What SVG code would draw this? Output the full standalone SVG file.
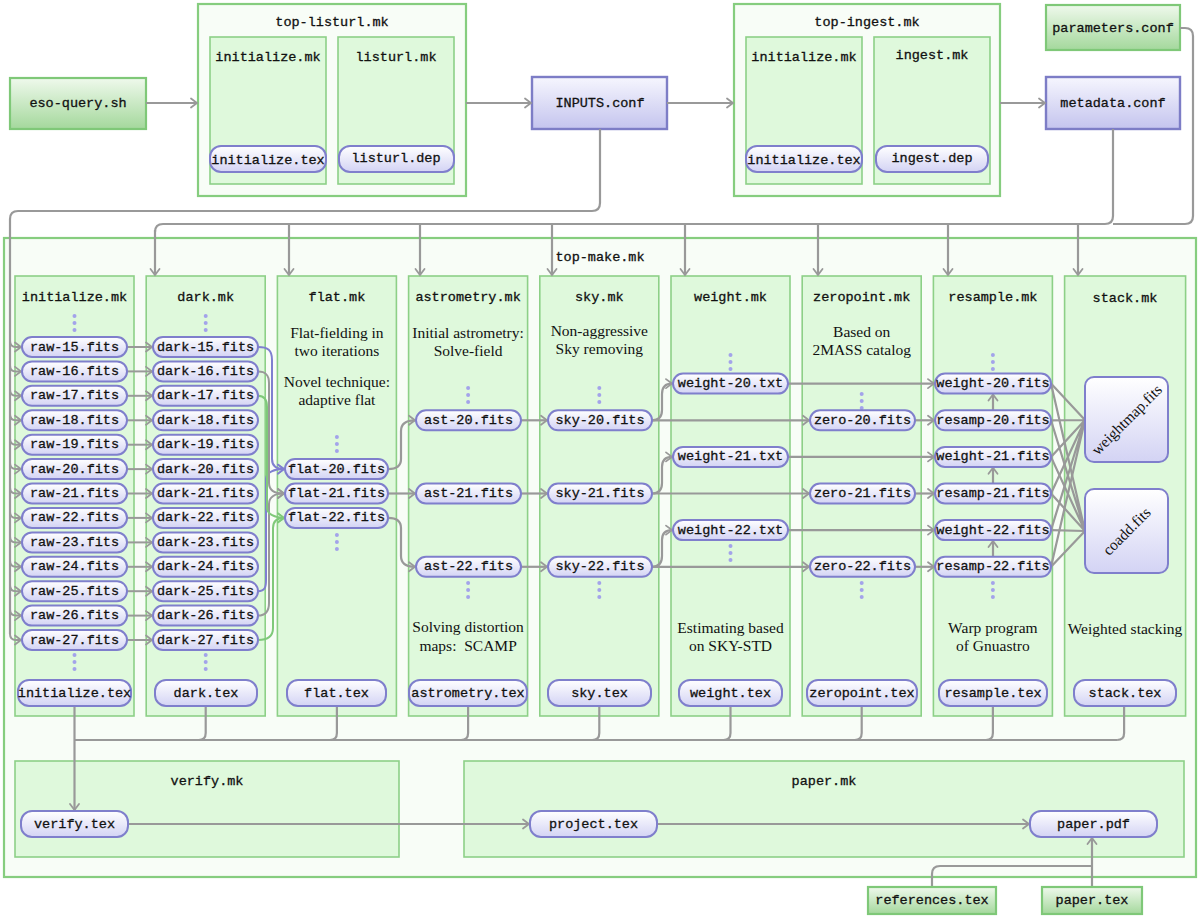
<svg xmlns="http://www.w3.org/2000/svg" width="1200" height="918" viewBox="0 0 1200 918">
<defs>
<linearGradient id="gp" x1="0" y1="0" x2="0" y2="1"><stop offset="0" stop-color="#ffffff"/><stop offset="1" stop-color="#d3d3f4"/></linearGradient>
<linearGradient id="gb" x1="0" y1="0" x2="0" y2="1"><stop offset="0" stop-color="#f6f6fe"/><stop offset="1" stop-color="#c4c4ee"/></linearGradient>
<linearGradient id="gg" x1="0" y1="0" x2="0" y2="1"><stop offset="0" stop-color="#eff9ec"/><stop offset="1" stop-color="#a4d89c"/></linearGradient>
<marker id="ag" markerUnits="userSpaceOnUse" markerWidth="10" markerHeight="12" viewBox="-8 -6 10 12" refX="0" refY="0" orient="auto"><path d="M-6,-4.5 Q-2,-1.5 0,0 Q-2,1.5 -6,4.5" fill="none" stroke="#999" stroke-width="1.8" stroke-linecap="round"/></marker>
<marker id="ab" markerUnits="userSpaceOnUse" markerWidth="10" markerHeight="12" viewBox="-8 -6 10 12" refX="0" refY="0" orient="auto"><path d="M-6,-4.5 Q-2,-1.5 0,0 Q-2,1.5 -6,4.5" fill="none" stroke="#7f7fd0" stroke-width="1.8" stroke-linecap="round"/></marker>
<marker id="an" markerUnits="userSpaceOnUse" markerWidth="10" markerHeight="12" viewBox="-8 -6 10 12" refX="0" refY="0" orient="auto"><path d="M-6,-4.5 Q-2,-1.5 0,0 Q-2,1.5 -6,4.5" fill="none" stroke="#7fc97a" stroke-width="1.8" stroke-linecap="round"/></marker>
</defs>
<style>
.m{font-family:"Liberation Mono","DejaVu Sans Mono",monospace;font-size:13.5px;fill:#111;stroke:#111;stroke-width:0.3;text-anchor:middle;dominant-baseline:central}
.s{font-family:"Liberation Serif","DejaVu Serif",serif;font-size:15.5px;fill:#111;text-anchor:middle;dominant-baseline:central}
.outer{fill:#f8fdf7;stroke:#86cd7f;stroke-width:2.2}
.col{fill:#dff9dc;stroke:#8dd087;stroke-width:1.6}
.pill{fill:url(#gp);stroke:#7f7fcc;stroke-width:2}
.bbox{fill:url(#gb);stroke:#7d7dc6;stroke-width:2.4}
.gbox{fill:url(#gg);stroke:#7fc878;stroke-width:2.2}
.c{fill:none;stroke:#999;stroke-width:2.2}
.ca{fill:none;stroke:#999;stroke-width:2.2;marker-end:url(#ag)}
.cb{fill:none;stroke:#7f7fd0;stroke-width:2;marker-end:url(#ab)}
.cn{fill:none;stroke:#7fc97a;stroke-width:2;marker-end:url(#an)}
.cg{fill:none;stroke:#999;stroke-width:2;marker-end:url(#ag)}
.d{fill:#a3a3ea}
</style>
<rect width="1200" height="918" fill="#fff"/>

<g id="top-make">
<rect class="outer" x="4" y="238" width="1192" height="639"/>
<text class="m" x="600" y="257">top-make.mk</text>
</g>
<g id="top-listurl">
<rect class="outer" x="198" y="4" width="268" height="192"/>
<text class="m" x="332" y="22">top-listurl.mk</text>
<g id="tl-initialize-mk"><rect class="col" x="210" y="37" width="116" height="147"/><text class="m" x="268" y="57">initialize.mk</text></g>
<g id="tl-listurl-mk"><rect class="col" x="338" y="37" width="116" height="147"/><text class="m" x="396" y="57">listurl.mk</text></g>
<g id="tl-initialize-tex"><rect class="pill" x="210" y="146" width="116" height="26" rx="11"/><text class="m" x="268" y="160">initialize.tex</text></g>
<g id="tl-listurl-dep"><rect class="pill" x="339" y="146" width="115" height="26" rx="11"/><text class="m" x="396" y="158">listurl.dep</text></g>
</g>
<g id="top-ingest">
<rect class="outer" x="734" y="4" width="266" height="192"/>
<text class="m" x="867" y="22">top-ingest.mk</text>
<g id="ti-initialize-mk"><rect class="col" x="746" y="37" width="116" height="147"/><text class="m" x="804" y="57">initialize.mk</text></g>
<g id="ti-ingest-mk"><rect class="col" x="874" y="37" width="116" height="147"/><text class="m" x="932" y="55">ingest.mk</text></g>
<g id="ti-initialize-tex"><rect class="pill" x="746" y="146" width="116" height="26" rx="11"/><text class="m" x="804" y="160">initialize.tex</text></g>
<g id="ti-ingest-dep"><rect class="pill" x="876" y="146" width="112" height="26" rx="11"/><text class="m" x="932" y="158">ingest.dep</text></g>
</g>

<g id="eso-query"><rect class="gbox" x="10" y="78" width="136" height="51"/><text class="m" x="78" y="103">eso-query.sh</text></g>
<g id="inputs-conf"><rect class="bbox" x="532" y="77" width="135" height="52"/><text class="m" x="600" y="103">INPUTS.conf</text></g>
<g id="parameters-conf"><rect class="gbox" x="1046" y="5" width="134" height="45"/><text class="m" x="1113" y="28">parameters.conf</text></g>
<g id="metadata-conf"><rect class="bbox" x="1046" y="77" width="134" height="52"/><text class="m" x="1113" y="103">metadata.conf</text></g>

<g id="col-initialize"><rect class="col" x="15" y="276" width="119" height="440"/><text class="m" x="74.5" y="297">initialize.mk</text>
<circle class="d" cx="74.5" cy="316" r="2"/><circle class="d" cx="74.5" cy="323" r="2"/><circle class="d" cx="74.5" cy="330" r="2"/>
<circle class="d" cx="74.5" cy="655" r="2"/><circle class="d" cx="74.5" cy="662" r="2"/><circle class="d" cx="74.5" cy="669" r="2"/></g>
<g id="col-dark"><rect class="col" x="146.2" y="276" width="119" height="440"/><text class="m" x="205.7" y="297">dark.mk</text>
<circle class="d" cx="205.7" cy="316" r="2"/><circle class="d" cx="205.7" cy="323" r="2"/><circle class="d" cx="205.7" cy="330" r="2"/>
<circle class="d" cx="205.7" cy="655" r="2"/><circle class="d" cx="205.7" cy="662" r="2"/><circle class="d" cx="205.7" cy="669" r="2"/></g>
<g id="col-flat"><rect class="col" x="277.4" y="276" width="119" height="440"/><text class="m" x="336.9" y="297">flat.mk</text>
<text class="s" x="336.9" y="332">Flat-fielding in</text><text class="s" x="336.9" y="350">two iterations</text>
<text class="s" x="336.9" y="381">Novel technique:</text><text class="s" x="336.9" y="399">adaptive flat</text>
<circle class="d" cx="336.9" cy="437" r="2"/><circle class="d" cx="336.9" cy="444" r="2"/><circle class="d" cx="336.9" cy="451" r="2"/>
<circle class="d" cx="336.9" cy="535" r="2"/><circle class="d" cx="336.9" cy="542" r="2"/><circle class="d" cx="336.9" cy="549" r="2"/></g>
<g id="col-astrometry"><rect class="col" x="408.6" y="276" width="119" height="440"/><text class="m" x="468.1" y="297">astrometry.mk</text>
<text class="s" x="468.1" y="332">Initial astrometry:</text><text class="s" x="468.1" y="350">Solve-field</text>
<circle class="d" cx="468.1" cy="388" r="2"/><circle class="d" cx="468.1" cy="395" r="2"/><circle class="d" cx="468.1" cy="402" r="2"/>
<circle class="d" cx="468.1" cy="583" r="2"/><circle class="d" cx="468.1" cy="590" r="2"/><circle class="d" cx="468.1" cy="597" r="2"/>
<text class="s" x="468.1" y="626">Solving distortion</text><text class="s" x="468.1" y="645">maps:&#160; SCAMP</text></g>
<g id="col-sky"><rect class="col" x="539.8" y="276" width="119" height="440"/><text class="m" x="599.3" y="297">sky.mk</text>
<text class="s" x="599.3" y="330">Non-aggressive</text><text class="s" x="599.3" y="348">Sky removing</text>
<circle class="d" cx="599.3" cy="388" r="2"/><circle class="d" cx="599.3" cy="395" r="2"/><circle class="d" cx="599.3" cy="402" r="2"/>
<circle class="d" cx="599.3" cy="583" r="2"/><circle class="d" cx="599.3" cy="590" r="2"/><circle class="d" cx="599.3" cy="597" r="2"/></g>
<g id="col-weight"><rect class="col" x="671" y="276" width="119" height="440"/><text class="m" x="730.5" y="297">weight.mk</text>
<circle class="d" cx="730.5" cy="355" r="2"/><circle class="d" cx="730.5" cy="362" r="2"/><circle class="d" cx="730.5" cy="369" r="2"/>
<circle class="d" cx="730.5" cy="546" r="2"/><circle class="d" cx="730.5" cy="553" r="2"/><circle class="d" cx="730.5" cy="560" r="2"/>
<text class="s" x="730.5" y="627">Estimating based</text><text class="s" x="730.5" y="645">on SKY-STD</text></g>
<g id="col-zeropoint"><rect class="col" x="802.2" y="276" width="119" height="440"/><text class="m" x="861.7" y="297">zeropoint.mk</text>
<text class="s" x="861.7" y="331">Based on</text><text class="s" x="861.7" y="349">2MASS catalog</text>
<circle class="d" cx="861.7" cy="394" r="2"/><circle class="d" cx="861.7" cy="401" r="2"/><circle class="d" cx="861.7" cy="408" r="2"/>
<circle class="d" cx="861.7" cy="583" r="2"/><circle class="d" cx="861.7" cy="590" r="2"/><circle class="d" cx="861.7" cy="597" r="2"/></g>
<g id="col-resample"><rect class="col" x="933.4" y="276" width="119" height="440"/><text class="m" x="992.9" y="297">resample.mk</text>
<circle class="d" cx="992.9" cy="355" r="2"/><circle class="d" cx="992.9" cy="362" r="2"/><circle class="d" cx="992.9" cy="369" r="2"/>
<circle class="d" cx="992.9" cy="583" r="2"/><circle class="d" cx="992.9" cy="590" r="2"/><circle class="d" cx="992.9" cy="597" r="2"/>
<text class="s" x="992.9" y="627">Warp program</text><text class="s" x="992.9" y="645">of Gnuastro</text></g>
<g id="col-stack"><rect class="col" x="1064.6" y="276" width="121" height="440"/><text class="m" x="1125" y="298">stack.mk</text>
<text class="s" x="1125" y="628">Weighted stacking</text></g>

<g id="verify-mk"><rect class="col" x="15" y="761" width="384" height="96"/><text class="m" x="207" y="781">verify.mk</text></g>
<g id="paper-mk"><rect class="col" x="464" y="761" width="720" height="96"/><text class="m" x="824" y="781">paper.mk</text></g>

<g id="connectors">
<path class="ca" d="M146,103 L197,103"/>
<path class="ca" d="M466,103 L531,103"/>
<path class="ca" d="M667,103 L733,103"/>
<path class="ca" d="M1000,103 L1045,103"/>
<path class="c" d="M600,129 L600,203 Q600,211 592,211 L18,211 Q10,211 10,219 L10,634"/>
<path class="cg" d="M10,341 Q10,347 16,347 L21,347"/>
<path class="cg" d="M10,365.4 Q10,371.4 16,371.4 L21,371.4"/>
<path class="cg" d="M10,389.8 Q10,395.8 16,395.8 L21,395.8"/>
<path class="cg" d="M10,414.3 Q10,420.3 16,420.3 L21,420.3"/>
<path class="cg" d="M10,438.7 Q10,444.7 16,444.7 L21,444.7"/>
<path class="cg" d="M10,463.1 Q10,469.1 16,469.1 L21,469.1"/>
<path class="cg" d="M10,487.5 Q10,493.5 16,493.5 L21,493.5"/>
<path class="cg" d="M10,511.9 Q10,517.9 16,517.9 L21,517.9"/>
<path class="cg" d="M10,536.4 Q10,542.4 16,542.4 L21,542.4"/>
<path class="cg" d="M10,560.8 Q10,566.8 16,566.8 L21,566.8"/>
<path class="cg" d="M10,585.2 Q10,591.2 16,591.2 L21,591.2"/>
<path class="cg" d="M10,609.6 Q10,615.6 16,615.6 L21,615.6"/>
<path class="cg" d="M10,634 Q10,640 16,640 L21,640"/>
<path class="c" d="M1113,129 L1113,216 Q1113,224 1105,224 L163,224 Q155,224 155,232"/>
<path class="c" d="M1180,28 L1185,28 Q1193,28 1193,36 L1193,216 Q1193,224 1185,224 L1113,224"/>
<path class="ca" d="M155,230 L155,275"/>
<path class="ca" d="M289,224 L289,275"/>
<path class="ca" d="M420,224 L420,275"/>
<path class="ca" d="M552,224 L552,275"/>
<path class="ca" d="M685,224 L685,275"/>
<path class="ca" d="M818,224 L818,275"/>
<path class="ca" d="M948,224 L948,275"/>
<path class="ca" d="M1078,224 L1078,275"/>
<path class="cg" d="M127,347 L152,347"/>
<path class="cg" d="M127,371.4 L152,371.4"/>
<path class="cg" d="M127,395.8 L152,395.8"/>
<path class="cg" d="M127,420.3 L152,420.3"/>
<path class="cg" d="M127,444.7 L152,444.7"/>
<path class="cg" d="M127,469.1 L152,469.1"/>
<path class="cg" d="M127,493.5 L152,493.5"/>
<path class="cg" d="M127,517.9 L152,517.9"/>
<path class="cg" d="M127,542.4 L152,542.4"/>
<path class="cg" d="M127,566.8 L152,566.8"/>
<path class="cg" d="M127,591.2 L152,591.2"/>
<path class="cg" d="M127,615.6 L152,615.6"/>
<path class="cg" d="M127,640 L152,640"/>
<path class="cb" d="M258,347 C268,347 272,350 272,360 L272,459 C272,466 276,469.1 284,469.1"/>
<path class="cb" d="M258,591.2 C265,591.2 266,587 266,580 L266,479 C266,472 275,469.1 284,469.1"/>
<path class="cg" d="M258,371.4 C266,371.4 269,375 269,383 L269,483 C269,490 274,493.5 284,493.5"/>
<path class="cg" d="M258,615.6 C266,615.6 269,611 269,603 L269,504 C269,497 275,493.5 284,493.5"/>
<path class="cn" d="M258,395.8 C264,395.8 267,399 267,407 L267,508 C267,514 275,517.9 284,517.9"/>
<path class="cn" d="M258,640 C268,640 273,636 273,628 L273,528 C273,521 277,517.9 284,517.9"/>
<path class="ca" d="M388,469.1 Q401,469.1 401,459 L401,431 Q401,420.3 415,420.3"/>
<path class="ca" d="M388,493.5 L415,493.5"/>
<path class="ca" d="M388,517.9 Q401,517.9 401,528 L401,556 Q401,566.8 415,566.8"/>
<path class="ca" d="M521,420.3 L547,420.3"/>
<path class="ca" d="M521,493.5 L547,493.5"/>
<path class="ca" d="M521,566.8 L547,566.8"/>
<path class="ca" d="M652,420.3 Q662,420.3 662,410 L662,394 Q662,383.6 672,383.6"/>
<path class="ca" d="M652,493.5 Q662,493.5 662,483 L662,467 Q662,456.9 672,456.9"/>
<path class="ca" d="M652,566.8 Q662,566.8 662,556 L662,540 Q662,530.1 672,530.1"/>
<path class="ca" d="M652,420.3 L809,420.3"/>
<path class="ca" d="M652,493.5 L809,493.5"/>
<path class="ca" d="M652,566.8 L809,566.8"/>
<path class="ca" d="M788,383.6 L934,383.6"/>
<path class="ca" d="M788,456.9 L934,456.9"/>
<path class="ca" d="M788,530.1 L934,530.1"/>
<path class="ca" d="M915,420.3 L934,420.3"/>
<path class="ca" d="M915,493.5 L934,493.5"/>
<path class="ca" d="M915,566.8 L934,566.8"/>
<path class="ca" d="M993,410 L993,394.5"/>
<path class="ca" d="M993,483 L993,467.8"/>
<path class="ca" d="M993,556.5 L993,541"/>
<g class="c" stroke-width="2">
<path d="M1051,383.6 L1085,420 M1051,420.3 L1085,420 M1051,456.9 L1085,420 M1051,493.5 L1085,420 M1051,530.1 L1085,420 M1051,566.8 L1085,420"/>
<path d="M1051,383.6 L1085,531 M1051,420.3 L1085,531 M1051,456.9 L1085,531 M1051,493.5 L1085,531 M1051,530.1 L1085,531 M1051,566.8 L1085,531"/>
</g>
<path class="c" d="M74.5,740 L1117,740"/>
<path class="c" d="M205.7,706 L205.7,733 Q205.7,740 198.7,740"/>
<path class="c" d="M336.9,706 L336.9,733 Q336.9,740 329.9,740"/>
<path class="c" d="M468.1,706 L468.1,733 Q468.1,740 461.1,740"/>
<path class="c" d="M599.3,706 L599.3,733 Q599.3,740 592.3,740"/>
<path class="c" d="M730.5,706 L730.5,733 Q730.5,740 723.5,740"/>
<path class="c" d="M861.7,706 L861.7,733 Q861.7,740 854.7,740"/>
<path class="c" d="M992.9,706 L992.9,733 Q992.9,740 985.9,740"/>
<path class="c" d="M1124.1,706 L1124.1,733 Q1124.1,740 1117.1,740"/>
<path class="ca" d="M74.5,706 L74.5,810"/>
<path class="ca" d="M128,824 L529,824"/>
<path class="ca" d="M657,824 L1029,824"/>
<path class="c" d="M932,886 L932,874 Q932,866 940,866 L1092,866"/>
<path class="ca" d="M1092,886 L1092,838"/>
</g>

<g id="raw-15"><rect class="pill" x="22" y="337" width="105" height="20" rx="10"/><text class="m" x="74.5" y="347">raw-15.fits</text></g>
<g id="raw-16"><rect class="pill" x="22" y="361.4" width="105" height="20" rx="10"/><text class="m" x="74.5" y="371.4">raw-16.fits</text></g>
<g id="raw-17"><rect class="pill" x="22" y="385.8" width="105" height="20" rx="10"/><text class="m" x="74.5" y="395.8">raw-17.fits</text></g>
<g id="raw-18"><rect class="pill" x="22" y="410.3" width="105" height="20" rx="10"/><text class="m" x="74.5" y="420.3">raw-18.fits</text></g>
<g id="raw-19"><rect class="pill" x="22" y="434.7" width="105" height="20" rx="10"/><text class="m" x="74.5" y="444.7">raw-19.fits</text></g>
<g id="raw-20"><rect class="pill" x="22" y="459.1" width="105" height="20" rx="10"/><text class="m" x="74.5" y="469.1">raw-20.fits</text></g>
<g id="raw-21"><rect class="pill" x="22" y="483.5" width="105" height="20" rx="10"/><text class="m" x="74.5" y="493.5">raw-21.fits</text></g>
<g id="raw-22"><rect class="pill" x="22" y="507.9" width="105" height="20" rx="10"/><text class="m" x="74.5" y="517.9">raw-22.fits</text></g>
<g id="raw-23"><rect class="pill" x="22" y="532.4" width="105" height="20" rx="10"/><text class="m" x="74.5" y="542.4">raw-23.fits</text></g>
<g id="raw-24"><rect class="pill" x="22" y="556.8" width="105" height="20" rx="10"/><text class="m" x="74.5" y="566.8">raw-24.fits</text></g>
<g id="raw-25"><rect class="pill" x="22" y="581.2" width="105" height="20" rx="10"/><text class="m" x="74.5" y="591.2">raw-25.fits</text></g>
<g id="raw-26"><rect class="pill" x="22" y="605.6" width="105" height="20" rx="10"/><text class="m" x="74.5" y="615.6">raw-26.fits</text></g>
<g id="raw-27"><rect class="pill" x="22" y="630" width="105" height="20" rx="10"/><text class="m" x="74.5" y="640">raw-27.fits</text></g>

<g id="dark-15"><rect class="pill" x="153" y="337" width="105" height="20" rx="10"/><text class="m" x="205.5" y="347">dark-15.fits</text></g>
<g id="dark-16"><rect class="pill" x="153" y="361.4" width="105" height="20" rx="10"/><text class="m" x="205.5" y="371.4">dark-16.fits</text></g>
<g id="dark-17"><rect class="pill" x="153" y="385.8" width="105" height="20" rx="10"/><text class="m" x="205.5" y="395.8">dark-17.fits</text></g>
<g id="dark-18"><rect class="pill" x="153" y="410.3" width="105" height="20" rx="10"/><text class="m" x="205.5" y="420.3">dark-18.fits</text></g>
<g id="dark-19"><rect class="pill" x="153" y="434.7" width="105" height="20" rx="10"/><text class="m" x="205.5" y="444.7">dark-19.fits</text></g>
<g id="dark-20"><rect class="pill" x="153" y="459.1" width="105" height="20" rx="10"/><text class="m" x="205.5" y="469.1">dark-20.fits</text></g>
<g id="dark-21"><rect class="pill" x="153" y="483.5" width="105" height="20" rx="10"/><text class="m" x="205.5" y="493.5">dark-21.fits</text></g>
<g id="dark-22"><rect class="pill" x="153" y="507.9" width="105" height="20" rx="10"/><text class="m" x="205.5" y="517.9">dark-22.fits</text></g>
<g id="dark-23"><rect class="pill" x="153" y="532.4" width="105" height="20" rx="10"/><text class="m" x="205.5" y="542.4">dark-23.fits</text></g>
<g id="dark-24"><rect class="pill" x="153" y="556.8" width="105" height="20" rx="10"/><text class="m" x="205.5" y="566.8">dark-24.fits</text></g>
<g id="dark-25"><rect class="pill" x="153" y="581.2" width="105" height="20" rx="10"/><text class="m" x="205.5" y="591.2">dark-25.fits</text></g>
<g id="dark-26"><rect class="pill" x="153" y="605.6" width="105" height="20" rx="10"/><text class="m" x="205.5" y="615.6">dark-26.fits</text></g>
<g id="dark-27"><rect class="pill" x="153" y="630" width="105" height="20" rx="10"/><text class="m" x="205.5" y="640">dark-27.fits</text></g>

<g id="flat-20"><rect class="pill" x="285" y="459.1" width="103" height="20" rx="10"/><text class="m" x="336.5" y="469.1">flat-20.fits</text></g>
<g id="flat-21"><rect class="pill" x="285" y="483.5" width="103" height="20" rx="10"/><text class="m" x="336.5" y="493.5">flat-21.fits</text></g>
<g id="flat-22"><rect class="pill" x="285" y="507.9" width="103" height="20" rx="10"/><text class="m" x="336.5" y="517.9">flat-22.fits</text></g>

<g id="ast-20"><rect class="pill" x="416" y="410.3" width="105" height="20" rx="10"/><text class="m" x="468.5" y="420.3">ast-20.fits</text></g>
<g id="ast-21"><rect class="pill" x="416" y="483.5" width="105" height="20" rx="10"/><text class="m" x="468.5" y="493.5">ast-21.fits</text></g>
<g id="ast-22"><rect class="pill" x="416" y="556.8" width="105" height="20" rx="10"/><text class="m" x="468.5" y="566.8">ast-22.fits</text></g>

<g id="sky-20"><rect class="pill" x="548" y="410.3" width="104" height="20" rx="10"/><text class="m" x="600" y="420.3">sky-20.fits</text></g>
<g id="sky-21"><rect class="pill" x="548" y="483.5" width="104" height="20" rx="10"/><text class="m" x="600" y="493.5">sky-21.fits</text></g>
<g id="sky-22"><rect class="pill" x="548" y="556.8" width="104" height="20" rx="10"/><text class="m" x="600" y="566.8">sky-22.fits</text></g>

<g id="weight-20-txt"><rect class="pill" x="673" y="373.6" width="115" height="20" rx="10"/><text class="m" x="730.5" y="383.6">weight-20.txt</text></g>
<g id="weight-21-txt"><rect class="pill" x="673" y="446.9" width="115" height="20" rx="10"/><text class="m" x="730.5" y="456.9">weight-21.txt</text></g>
<g id="weight-22-txt"><rect class="pill" x="673" y="520.1" width="115" height="20" rx="10"/><text class="m" x="730.5" y="530.1">weight-22.txt</text></g>

<g id="zero-20"><rect class="pill" x="810" y="410.3" width="105" height="20" rx="10"/><text class="m" x="862.5" y="420.3">zero-20.fits</text></g>
<g id="zero-21"><rect class="pill" x="810" y="483.5" width="105" height="20" rx="10"/><text class="m" x="862.5" y="493.5">zero-21.fits</text></g>
<g id="zero-22"><rect class="pill" x="810" y="556.8" width="105" height="20" rx="10"/><text class="m" x="862.5" y="566.8">zero-22.fits</text></g>

<g id="weight-20-fits"><rect class="pill" x="935" y="373.6" width="116" height="20" rx="10"/><text class="m" x="993" y="383.6">weight-20.fits</text></g>
<g id="resamp-20"><rect class="pill" x="935" y="410.3" width="116" height="20" rx="10"/><text class="m" x="993" y="420.3">resamp-20.fits</text></g>
<g id="weight-21-fits"><rect class="pill" x="935" y="446.9" width="116" height="20" rx="10"/><text class="m" x="993" y="456.9">weight-21.fits</text></g>
<g id="resamp-21"><rect class="pill" x="935" y="483.5" width="116" height="20" rx="10"/><text class="m" x="993" y="493.5">resamp-21.fits</text></g>
<g id="weight-22-fits"><rect class="pill" x="935" y="520.1" width="116" height="20" rx="10"/><text class="m" x="993" y="530.1">weight-22.fits</text></g>
<g id="resamp-22"><rect class="pill" x="935" y="556.8" width="116" height="20" rx="10"/><text class="m" x="993" y="566.8">resamp-22.fits</text></g>

<g id="weightmap"><rect class="pill" x="1085" y="377" width="83" height="85" rx="9"/><text class="s" transform="translate(1126.5,419.5) rotate(-45)">weightmap.fits</text></g>
<g id="coadd"><rect class="pill" x="1085" y="489" width="83" height="84" rx="9"/><text class="s" transform="translate(1126.5,531) rotate(-45)">coadd.fits</text></g>

<g id="initialize-tex"><rect class="pill" x="18" y="680" width="113" height="26" rx="11"/><text class="m" x="74.5" y="693">initialize.tex</text></g>
<g id="dark-tex"><rect class="pill" x="155" y="680" width="102" height="26" rx="11"/><text class="m" x="206" y="693">dark.tex</text></g>
<g id="flat-tex"><rect class="pill" x="287" y="680" width="99" height="26" rx="11"/><text class="m" x="336.5" y="693">flat.tex</text></g>
<g id="astrometry-tex"><rect class="pill" x="409" y="680" width="118" height="26" rx="11"/><text class="m" x="468" y="693">astrometry.tex</text></g>
<g id="sky-tex"><rect class="pill" x="548" y="680" width="103" height="26" rx="11"/><text class="m" x="599.5" y="693">sky.tex</text></g>
<g id="weight-tex"><rect class="pill" x="679" y="680" width="103" height="26" rx="11"/><text class="m" x="730.5" y="693">weight.tex</text></g>
<g id="zeropoint-tex"><rect class="pill" x="807" y="680" width="110" height="26" rx="11"/><text class="m" x="862" y="693">zeropoint.tex</text></g>
<g id="resample-tex"><rect class="pill" x="939" y="680" width="108" height="26" rx="11"/><text class="m" x="993" y="693">resample.tex</text></g>
<g id="stack-tex"><rect class="pill" x="1074" y="680" width="102" height="26" rx="11"/><text class="m" x="1125" y="693">stack.tex</text></g>

<g id="verify-tex"><rect class="pill" x="21" y="811" width="107" height="26" rx="11"/><text class="m" x="74.5" y="824">verify.tex</text></g>
<g id="project-tex"><rect class="pill" x="530" y="811" width="127" height="26" rx="11"/><text class="m" x="593.5" y="824">project.tex</text></g>
<g id="paper-pdf"><rect class="pill" x="1030" y="811" width="127" height="26" rx="11"/><text class="m" x="1093.5" y="824">paper.pdf</text></g>
<g id="references-tex"><rect class="gbox" x="868" y="887" width="128" height="27"/><text class="m" x="932" y="900.5">references.tex</text></g>
<g id="paper-tex"><rect class="gbox" x="1042" y="887" width="100" height="27"/><text class="m" x="1092" y="900.5">paper.tex</text></g>
</svg>
